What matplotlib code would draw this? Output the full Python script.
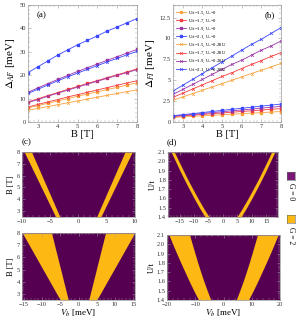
import numpy as np
import matplotlib
matplotlib.use("Agg")
import matplotlib.pyplot as plt
from matplotlib.lines import Line2D

plt.rcParams['font.family'] = ['Liberation Serif', 'DejaVu Serif']
plt.rcParams['mathtext.fontset'] = 'stix'

# ---------------- data ----------------
B = [2.5, 3.0, 3.5, 4.0, 4.5, 5.0, 5.5, 6.0, 6.5, 7.0, 7.5, 8.0]
U_values = ["1.5", "1.7", "1.9", "2.1"]
colors = ['#F7A23C', '#F53B3B', '#9B35A8', '#3A46FF']

# panel (a): Delta_AF
af_uj0 = [
    [6.0, 7.0, 8.0, 9.0, 10.0, 11.0, 12.0, 12.9, 13.9, 14.8, 15.8, 16.7],
    [8.6, 9.9, 11.3, 12.6, 13.9, 15.2, 16.5, 17.7, 19.0, 20.2, 21.4, 22.7],
    [12.7, 14.6, 16.4, 18.2, 19.9, 21.6, 23.2, 24.8, 26.4, 27.9, 29.5, 31.0],
    [21.1, 23.6, 26.1, 28.6, 30.8, 33.0, 34.9, 36.8, 38.9, 40.6, 42.4, 44.2],
]
af_uj28 = [
    [5.0, 5.8, 6.6, 7.4, 8.2, 9.0, 9.8, 10.6, 11.4, 12.2, 13.0, 13.7],
    [6.4, 7.5, 8.6, 9.6, 10.7, 11.7, 12.7, 13.7, 14.7, 15.7, 16.7, 17.6],
    [8.3, 9.6, 11.0, 12.3, 13.6, 14.9, 16.2, 17.4, 18.7, 19.9, 21.1, 22.4],
    [12.2, 14.0, 15.8, 17.6, 19.3, 20.9, 22.5, 24.1, 25.7, 27.2, 28.7, 30.2],
]
# panel (b): Delta_FI
fi_uj0 = [
    [0.55, 0.61, 0.68, 0.74, 0.80, 0.87, 0.93, 1.00, 1.06, 1.12, 1.19, 1.25],
    [0.65, 0.74, 0.82, 0.91, 1.00, 1.08, 1.17, 1.26, 1.34, 1.43, 1.52, 1.60],
    [0.70, 0.80, 0.91, 1.02, 1.12, 1.23, 1.34, 1.44, 1.55, 1.66, 1.76, 1.87],
    [0.75, 0.88, 1.00, 1.13, 1.26, 1.39, 1.52, 1.64, 1.77, 1.90, 2.02, 2.15],
]
fi_uj28 = [
    [2.6, 3.0, 3.4, 3.8, 4.2, 4.6, 5.0, 5.4, 5.8, 6.2, 6.6, 7.0],
    [2.95, 3.45, 3.95, 4.45, 4.95, 5.45, 5.9, 6.4, 6.9, 7.35, 7.85, 8.3],
    [3.3, 3.9, 4.5, 5.1, 5.7, 6.3, 6.9, 7.4, 8.0, 8.6, 9.1, 9.7],
    [3.7, 4.4, 5.1, 5.8, 6.5, 7.2, 7.9, 8.6, 9.3, 9.9, 10.6, 11.3],
]

# phase diagrams: G=2 region boundaries |V_b| (inner, outer)
Bc = [2.5, 8.0]
c1_inner = [3.25, 8.3]
c1_outer = [4.0, 9.6]
c2_inner = [2.8, 7.4]
c2_outer = [5.0, 15.4]

Ud = [1.4, 1.5, 1.6, 1.7, 1.8, 1.9, 2.0, 2.1]
d1_inner = [4.8, 6.8, 8.65, 10.4, 12.1, 13.7, 15.25, 16.8]
d1_outer = [6.2, 8.15, 9.95, 11.65, 13.3, 14.9, 16.4, 17.9]
d2_inner = [4.5, 5.75, 6.95, 8.05, 9.1, 10.1, 11.05, 12.0]
d2_outer = [8.8, 10.5, 12.1, 13.6, 15.1, 16.55, 17.95, 19.3]

purple = '#560052'
gold = '#FDB813'
frame_c = '#9a9a9a'

W, H = 299, 323
fig = plt.figure(figsize=(W / 100, H / 100), dpi=100)

def ax_px(x0, y0, x1, y1):
    return fig.add_axes([x0 / W, 1 - y1 / H, (x1 - x0) / W, (y1 - y0) / H])

def style(ax, fs=4.6):
    for s in ax.spines.values():
        s.set_color(frame_c)
        s.set_linewidth(0.5)
    ax.tick_params(direction='in', which='both', top=True, right=True,
                   color=frame_c, labelsize=fs, labelcolor='#333333',
                   pad=1.5, length=2.2, width=0.4)
    ax.tick_params(which='minor', length=1.2, width=0.3)
    ax.minorticks_on()

# ---------- (a) ----------
axa = ax_px(28, 5, 137, 122)
for i in range(4):
    axa.plot(B, af_uj28[i], '-', color=colors[i], lw=0.6, marker='x', ms=2.0, mew=0.5)
    axa.plot(B, af_uj0[i], '-', color=colors[i], lw=0.6, marker='s', ms=1.7)
axa.set_xlim(2.5, 8)
axa.set_ylim(0, 50)
axa.set_xticks([3, 4, 5, 6, 7, 8])
axa.set_yticks([0, 10, 20, 30, 40, 50])
style(axa)
axa.set_xlabel('B [T]', fontsize=7.5, labelpad=1)
axa.set_ylabel(r'$\Delta_{AF}$ [meV]', fontsize=8, labelpad=2)
axa.text(0.08, 0.9, '(a)', transform=axa.transAxes, fontsize=6.5)

# ---------- (b) ----------
axb = ax_px(173, 5, 281, 122)
handles = []
for i in range(4):
    h, = axb.plot(B, fi_uj0[i], '-', color=colors[i], lw=0.6, marker='s', ms=1.7,
                  label='U/t=%s, U$_J$=0' % U_values[i])
    handles.append(h)
for i in range(4):
    h, = axb.plot(B, fi_uj28[i], '-', color=colors[i], lw=0.6, marker='x', ms=2.0, mew=0.5,
                  label='U/t=%s, U$_J$=0.28U' % U_values[i])
    handles.append(h)
axb.set_xlim(2.5, 8)
axb.set_ylim(0, 14)
axb.set_xticks([3, 4, 5, 6, 7, 8])
axb.set_yticks([0, 2.5, 5, 7.5, 10, 12.5])
axb.set_yticklabels(['0', '2.5', '5', '7.5', '10', '12.5'])
style(axb)
axb.set_xlabel('B [T]', fontsize=7.5, labelpad=1)
axb.set_ylabel(r'$\Delta_{FI}$ [meV]', fontsize=8, labelpad=2)
axb.text(0.85, 0.9, '(b)', transform=axb.transAxes, fontsize=6.5)
axb.legend(handles=handles, loc='upper left', fontsize=3.4, frameon=False,
           handlelength=2.0, labelspacing=0.2, borderaxespad=0.3,
           handletextpad=0.5, bbox_to_anchor=(0.0, 0.99))

# ---------- phase diagrams ----------
def phase(ax, yv, inner, outer, xlim, ylim):
    ax.set_facecolor(purple)
    ax.fill_betweenx(yv, inner, outer, color=gold, lw=0)
    ax.fill_betweenx(yv, [-v for v in inner], [-v for v in outer], color=gold, lw=0)
    ax.set_xlim(*xlim)
    ax.set_ylim(*ylim)

axc1 = ax_px(22, 152, 134.5, 217)
phase(axc1, Bc, c1_inner, c1_outer, (-10, 10), (2.5, 8))
axc1.set_xticks([-10, -5, 0, 5, 10])
axc1.set_yticks([3, 4, 5, 6, 7, 8])
style(axc1, 4.6)
axc1.set_ylabel('B [T]', fontsize=6, labelpad=1)
fig.text(22 / W, 1 - 142 / H, '(c)', fontsize=6.5, va='center')

axc2 = ax_px(22, 233, 135, 300)
phase(axc2, Bc, c2_inner, c2_outer, (-15.5, 15.5), (2.5, 8))
axc2.set_xticks([-15, -10, -5, 0, 5, 10, 15])
axc2.set_yticks([3, 4, 5, 6, 7, 8])
style(axc2, 4.6)
axc2.set_ylabel('B [T]', fontsize=6, labelpad=1)
axc2.set_xlabel('$V_b$ [meV]', fontsize=6.5, labelpad=0.5)

Uticks = [1.4, 1.5, 1.6, 1.7, 1.8, 1.9, 2.0, 2.1]
Ulabels = ['1.4', '1.5', '1.6', '1.7', '1.8', '1.9', '2.0', '2.1']

axd1 = ax_px(168, 152, 278, 217)
phase(axd1, Ud, d1_inner, d1_outer, (-19, 19), (1.4, 2.1))
axd1.set_xticks([-15, -10, -5, 0, 5, 10, 15])
axd1.set_yticks(Uticks)
axd1.set_yticklabels(Ulabels)
style(axd1, 4.6)
axd1.set_ylabel('U/t', fontsize=6, labelpad=1)
fig.text(167 / W, 1 - 142 / H, '(d)', fontsize=6.5, va='center')

axd2 = ax_px(167, 235, 280, 300)
phase(axd2, Ud, d2_inner, d2_outer, (-20, 20), (1.4, 2.1))
axd2.set_xticks([-20, -10, 0, 10, 20])
axd2.set_yticks(Uticks)
axd2.set_yticklabels(Ulabels)
style(axd2, 4.6)
axd2.set_ylabel('U/t', fontsize=6, labelpad=1)
axd2.set_xlabel('$V_b$ [meV]', fontsize=6.5, labelpad=0.5)

# ---------- legend squares ----------
for (ys, col, lab, ty) in [(172, '#7B1878', 'G = 0', 192), (215, gold, 'G = 2', 236)]:
    lax = ax_px(287, ys, 295, ys + 8)
    lax.set_facecolor(col)
    lax.set_xticks([]); lax.set_yticks([])
    for s in lax.spines.values():
        s.set_linewidth(0.4); s.set_color('#666666')
    fig.text(291 / W, 1 - ty / H, lab, rotation=-90, fontsize=5.5,
             ha='center', va='center')

fig.savefig('out.png', dpi=100)
